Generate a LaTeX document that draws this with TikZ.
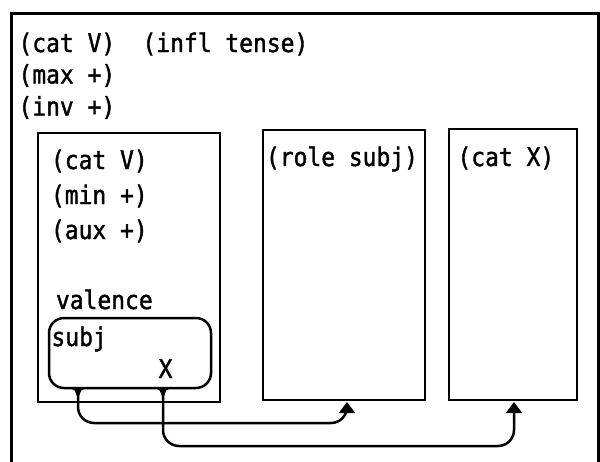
\documentclass[tikz,border=0pt]{standalone}
\usepackage{fontspec}
\newfontfamily\monofont[FakeStretch=0.9,FakeBold=1.5]{DejaVu Sans Mono}
\usetikzlibrary{arrows.meta,calc}
\begin{document}
\begin{tikzpicture}[x=1pt,y=-1pt,
  lbl/.style={anchor=base west,inner sep=0pt,outer sep=0pt,font=\monofont\fontsize{25.5}{30}\selectfont},
  boxn/.style={draw,line width=2.5pt,inner sep=0pt,outer sep=0pt,rectangle},
  conn/.style={line width=2.5pt,rounded corners=16pt,-{Triangle[width=16pt,length=11pt]}},
  srcmark/.style={fill=black}]
\useasboundingbox (0,0) rectangle (600,461);
\clip (0,0) rectangle (600,461);
% outer frame (bottom edge lies outside the visible area)
\node[boxn,line width=3pt,minimum width=587pt,minimum height=470pt] (frame) at (304.5,248) {};
% top level features
\node[lbl] (t1) at (18.5,52) {(cat V)};
\node[lbl] (t2) at (142.5,52) {(infl tense)};
\node[lbl] (t3) at (18.5,83.5) {(max +)};
\node[lbl] (t4) at (18.5,115.5) {(inv +)};
% three daughter boxes
\node[boxn,minimum width=182pt,minimum height=269pt] (vbox) at (129,267.5) {};
\node[boxn,minimum width=162pt,minimum height=270pt] (rbox) at (344,265) {};
\node[boxn,minimum width=128pt,minimum height=271pt] (cbox) at (513,264.5) {};
% contents of the first box
\node[lbl] (v1) at (51,169) {(cat V)};
\node[lbl] (v2) at (51,204) {(min +)};
\node[lbl] (v3) at (51,239) {(aux +)};
\node[lbl] (v4) at (56,309) {valence};
\node[boxn,rounded corners=15pt,minimum width=162pt,minimum height=70pt] (val) at (130,353) {};
\node[lbl] (vs) at (51.5,346) {subj};
\node[lbl,anchor=base] (vx) at (165.5,378) {X};
% contents of the other boxes
\node[lbl] (r1) at (266,166) {(role subj)};
\node[lbl] (c1) at (457.5,166) {(cat X)};
% connector ends
\coordinate (s1) at (78,388);
\coordinate (s2) at (163,388);
\coordinate (e1) at (347,402);
\coordinate (e2) at (514,402);
% source marks
\foreach \s in {s1,s2}{
  \fill[srcmark] ($(\s)+(-11,0)$) .. controls ($(\s)+(-3,1)$) .. ($(\s)+(0,12)$)
     .. controls ($(\s)+(3,1)$) .. ($(\s)+(11,0)$) -- cycle;
}
% connectors
\draw[conn] (s1) |- ($(e1)+(0,21)$) -- (e1);
\draw[conn] (s2) |- ($(e2)+(0,44)$) -- (e2);
\end{tikzpicture}
\end{document}
